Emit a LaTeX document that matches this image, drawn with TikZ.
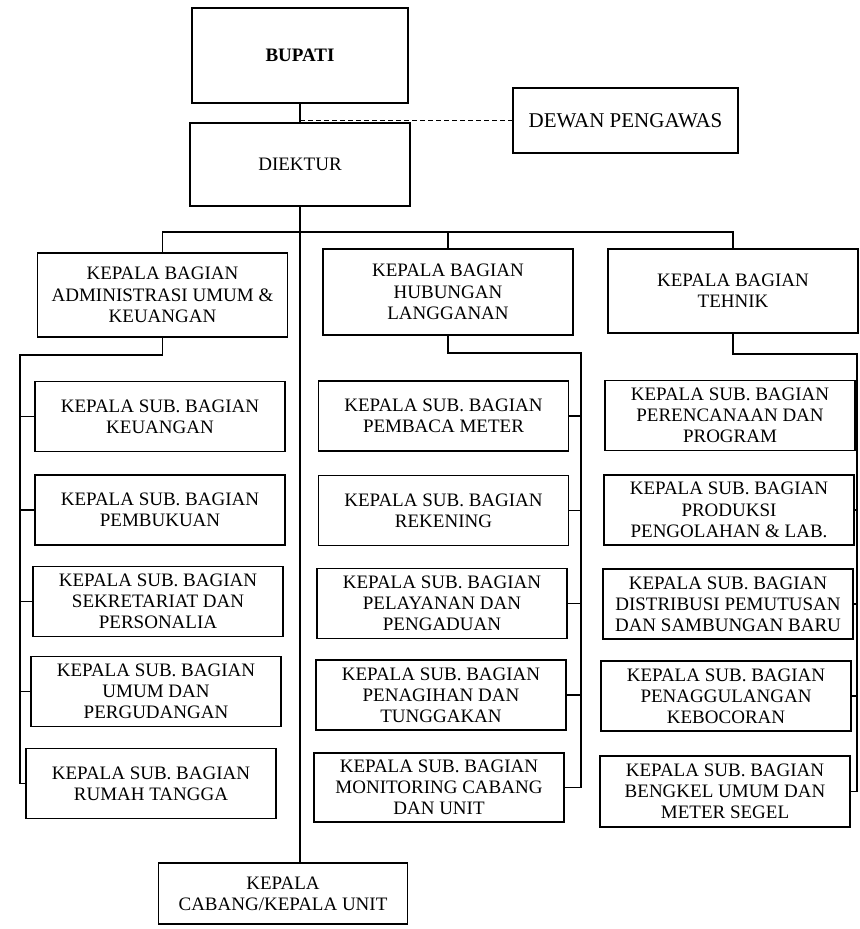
\documentclass[tikz,border=0pt]{standalone}
\usepackage{fontspec}
\setmainfont{Liberation Serif}
\usepackage{tikz}

\begin{document}
\begin{tikzpicture}[
  x=0.5pt, y=-0.5pt,
  font=\fontsize{9.5}{10.6}\selectfont,
  box/.style={draw, line width=0.8pt, align=center, inner sep=2pt},
  head/.style={box, minimum width=125pt, minimum height=42pt},
  sub/.style={box, minimum width=125pt, minimum height=35pt},
  link/.style={line width=0.8pt},
]
\useasboundingbox (0,0) rectangle (859,929);
% top
\node[box, minimum width=108pt, minimum height=47.5pt] (bupati) at (300,55.5) {\textbf{BUPATI}};
\node[box, minimum width=112.5pt, minimum height=32.5pt, font=\fontsize{10.5}{12}\selectfont] (dewan) at (625.5,120.5) {DEWAN PENGAWAS};
\node[box, minimum width=110pt, minimum height=41.5pt] (diektur) at (300,164.5) {DIEKTUR};
% kepala bagian
\node[head] (adm) at (162.5,295) {KEPALA BAGIAN\\ADMINISTRASI UMUM \&\\KEUANGAN};
\node[head, minimum height=43pt] (hub) at (448,292) {KEPALA BAGIAN\\HUBUNGAN\\LANGGANAN};
\node[head] (tek) at (733,291) {KEPALA BAGIAN\\TEHNIK};
% left column
\node[sub] (keu)  at (160,416.5) {KEPALA SUB. BAGIAN\\KEUANGAN};
\node[sub] (buku) at (160,510)   {KEPALA SUB. BAGIAN\\PEMBUKUAN};
\node[sub] (sekr) at (158,601.5) {KEPALA SUB. BAGIAN\\SEKRETARIAT DAN\\PERSONALIA};
\node[sub] (umum) at (156,691.5) {KEPALA SUB. BAGIAN\\UMUM DAN\\PERGUDANGAN};
\node[sub] (rt)   at (151,783.5) {KEPALA SUB. BAGIAN\\RUMAH TANGGA};
% middle column
\node[sub] (baca)  at (443.5,416)   {KEPALA SUB. BAGIAN\\PEMBACA METER};
\node[sub] (rek)   at (443.5,510.5) {KEPALA SUB. BAGIAN\\REKENING};
\node[sub] (layan) at (442,603.5)   {KEPALA SUB. BAGIAN\\PELAYANAN DAN\\PENGADUAN};
\node[sub] (tagih) at (441,695)     {KEPALA SUB. BAGIAN\\PENAGIHAN DAN\\TUNGGAKAN};
\node[sub, minimum height=34.5pt] (monit) at (439,787.5) {KEPALA SUB. BAGIAN\\MONITORING CABANG\\DAN UNIT};
% right column
\node[sub] (renc)  at (730,415.5) {KEPALA SUB. BAGIAN\\PERENCANAAN DAN\\PROGRAM};
\node[sub] (prod)  at (729,510)   {KEPALA SUB. BAGIAN\\PRODUKSI\\PENGOLAHAN \& LAB.};
\node[sub] (distr) at (728,604)   {KEPALA SUB. BAGIAN\\DISTRIBUSI PEMUTUSAN\\DAN SAMBUNGAN BARU};
\node[sub] (bocor) at (726,696)   {KEPALA SUB. BAGIAN\\PENAGGULANGAN\\KEBOCORAN};
\node[sub, minimum height=35.5pt] (bengkel) at (725,791.5) {KEPALA SUB. BAGIAN\\BENGKEL UMUM DAN\\METER SEGEL};
% bottom
\node[box, minimum width=124.5pt, minimum height=30.5pt] (cabang) at (283,893.5) {KEPALA\\CABANG/KEPALA UNIT};
% bus lines
\coordinate (bus)  at (0,232);
\coordinate (lbus) at (20,355);
\coordinate (mbus) at (581,353);
\coordinate (rbus) at (857,354);
% lines
\draw[link] (bupati) -- (diektur);
\draw[link, dash pattern=on 2.5pt off 1.5pt] (bupati.south |- dewan.west) -- (dewan.west);
\draw[link] (diektur.south) -- (diektur.south |- cabang.north);
\draw[link] (adm.north) |- (bus -| tek.north) -- (tek.north);
\draw[link] (hub.north) -- (hub.north |- bus);
\draw[link] (adm.south) |- (lbus) -- (lbus |- rt.west);
\foreach \n in {keu,buku,sekr,umum,rt}
  \draw[link] (lbus |- \n.west) -- (\n.west);
\draw[link] (hub.south) |- (mbus) -- (mbus |- monit.east);
\foreach \n in {baca,rek,layan,tagih,monit}
  \draw[link] (mbus |- \n.east) -- (\n.east);
\draw[link] (tek.south) |- (rbus) -- (rbus |- bengkel.east);
\foreach \n in {renc,prod,distr,bocor,bengkel}
  \draw[link] (rbus |- \n.east) -- (\n.east);
\end{tikzpicture}
\end{document}
